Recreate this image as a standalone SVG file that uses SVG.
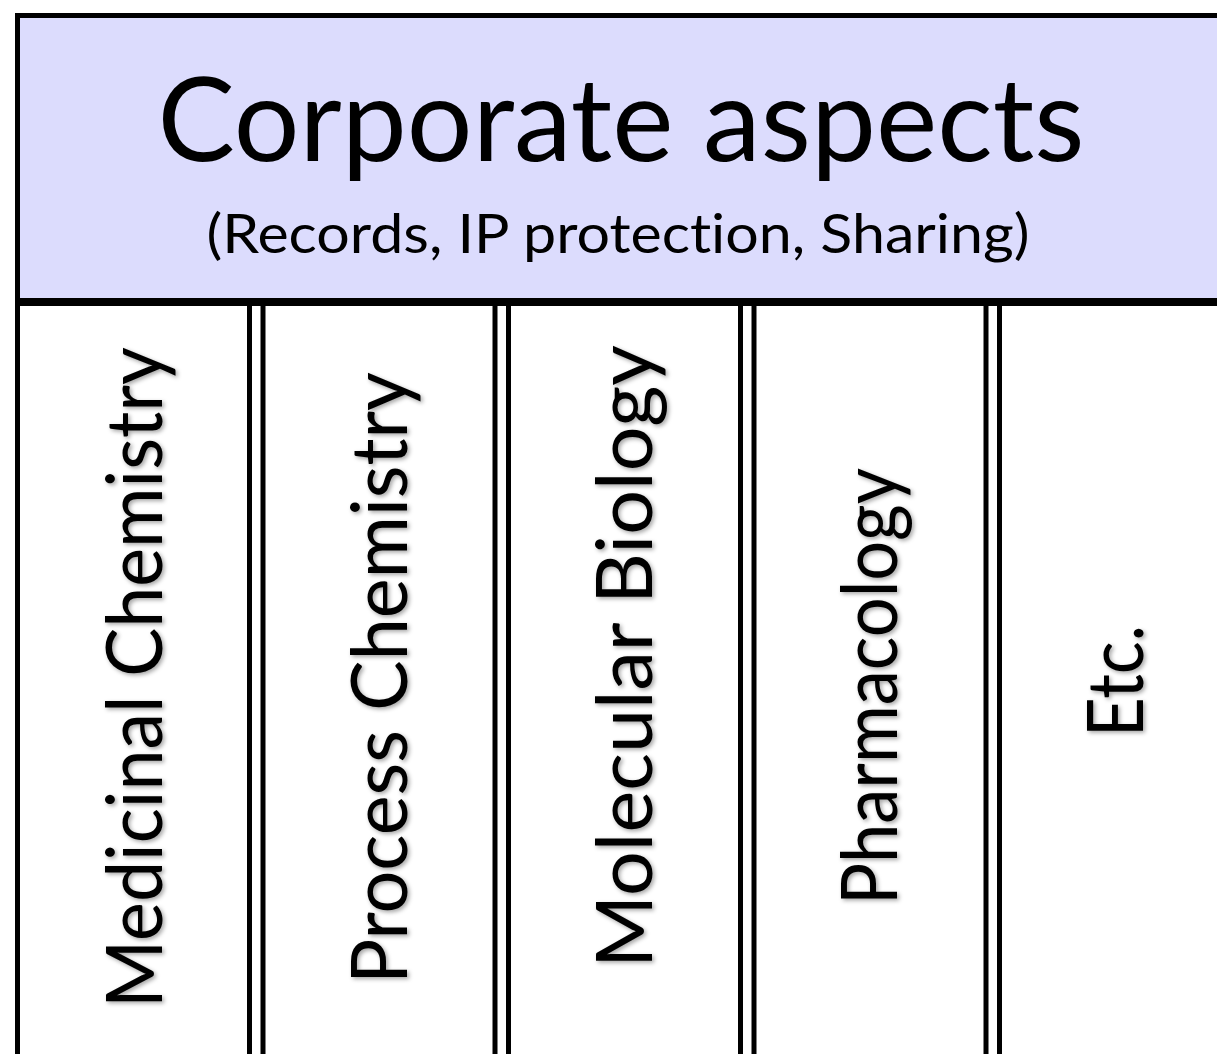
<svg xmlns="http://www.w3.org/2000/svg" width="1217" height="1054" viewBox="0 0 1217 1054">
  <defs>
    <style>
      .box { fill: #ffffff; stroke: #000000; stroke-width: 5; }
      .hdr { fill: #dcdcfd; stroke: #000000; stroke-width: 5; }
      .title { font-family: "Lato", "Open Sans", sans-serif; fill: #000000; text-anchor: middle; font-variant-ligatures: none; }
      .col { font-family: "Lato", "Open Sans", sans-serif; font-size: 78px; fill: #000000; font-variant-ligatures: none; }
    </style>
    <filter id="shadow" x="-20%" y="-20%" width="140%" height="140%">
      <feDropShadow dx="2" dy="2" stdDeviation="2" flood-color="#000000" flood-opacity="0.35"/>
    </filter>
  </defs>
  <rect width="1217" height="1054" fill="#ffffff"/>

  <g id="header">
    <rect class="hdr" x="17.5" y="15.5" width="1300" height="286.5"/>
    <text class="title" x="621" y="161" font-size="117" textLength="927" lengthAdjust="spacingAndGlyphs">Corporate aspects</text>
    <text class="title" x="618" y="253" font-size="55" textLength="823" lengthAdjust="spacingAndGlyphs">(Records, IP protection, Sharing)</text>
  </g>

  <g id="col-medicinal">
    <rect class="box" x="17.5" y="302" width="232" height="800"/>
    <g filter="url(#shadow)">
      <text class="col" transform="translate(162,1008) rotate(-90)" textLength="661" lengthAdjust="spacingAndGlyphs">Medicinal Chemistry</text>
    </g>
  </g>

  <g id="col-process">
    <rect class="box" x="263" y="302" width="232" height="800"/>
    <g filter="url(#shadow)">
      <text class="col" transform="translate(407,984) rotate(-90)" textLength="612" lengthAdjust="spacingAndGlyphs">Process Chemistry</text>
    </g>
  </g>

  <g id="col-molecular">
    <rect class="box" x="508.5" y="302" width="232" height="800"/>
    <g filter="url(#shadow)">
      <text class="col" transform="translate(652,968) rotate(-90)" textLength="623" lengthAdjust="spacingAndGlyphs">Molecular Biology</text>
    </g>
  </g>

  <g id="col-pharmacology">
    <rect class="box" x="754" y="302" width="232" height="800"/>
    <g filter="url(#shadow)">
      <text class="col" transform="translate(897,905) rotate(-90)" textLength="437" lengthAdjust="spacingAndGlyphs">Pharmacology</text>
    </g>
  </g>

  <g id="col-etc">
    <rect class="box" x="999.5" y="302" width="400" height="800"/>
    <g filter="url(#shadow)">
      <text class="col" transform="translate(1143,737) rotate(-90)" textLength="112" lengthAdjust="spacingAndGlyphs">Etc.</text>
    </g>
  </g>

  <g id="connectors">
    <line x1="15" y1="302" x2="1217" y2="302" stroke="#000000" stroke-width="8"/>
  </g>
</svg>
